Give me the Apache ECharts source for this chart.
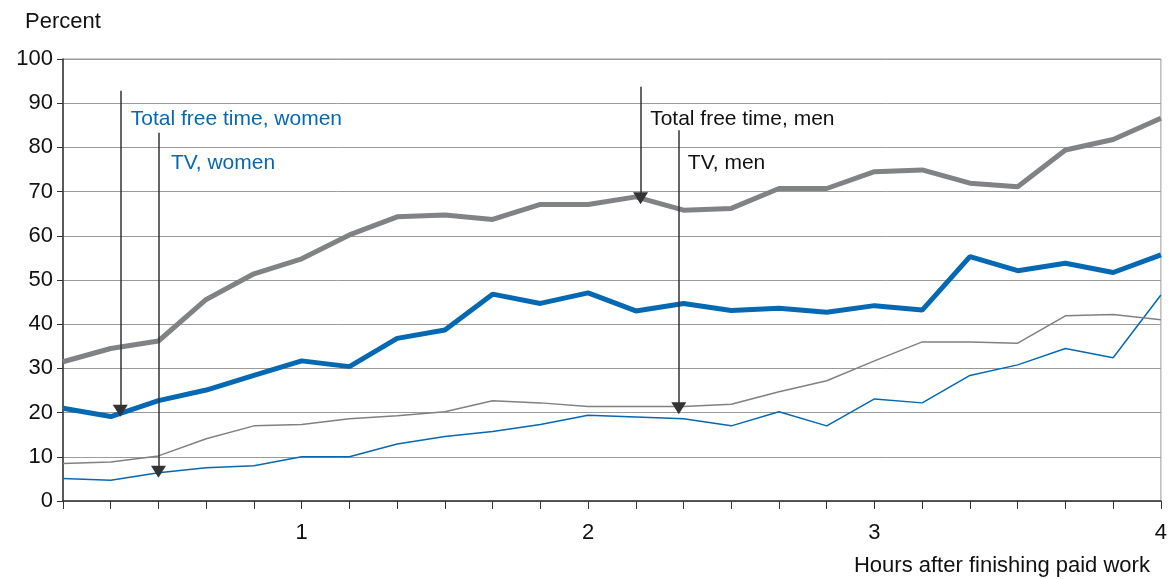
<!DOCTYPE html>
<html>
<head>
<meta charset="utf-8">
<script src="https://cdn.jsdelivr.net/npm/echarts@6/dist/echarts.min.js"></script>
<style>
  html, body { margin: 0; padding: 0; background: #fff; }
  #chart { width: 1170px; height: 579px; }
</style>
</head>
<body>
<div id="chart"></div>
<script>
// minutes after finishing paid work (10 min steps)
var minutes = [10, 20, 30, 40, 50, 60, 70, 80, 90, 100, 110, 120,
               130, 140, 150, 160, 170, 180, 190, 200, 210, 220, 230, 240];

// percent doing the activity
var freeWomen = [21.0, 19.1, 22.7, 25.1, 28.4, 31.7, 30.4, 36.8, 38.7, 46.8, 44.7, 47.1,
                 43.0, 44.7, 43.1, 43.6, 42.7, 44.2, 43.2, 55.3, 52.1, 53.8, 51.7, 55.7];
var freeMen = [31.5, 34.5, 36.2, 45.6, 51.4, 54.8, 60.2, 64.3, 64.7, 63.7, 67.1, 67.1,
               68.8, 65.8, 66.2, 70.7, 70.7, 74.5, 74.9, 71.9, 71.1, 79.4, 81.8, 86.6];
var tvMen = [8.5, 8.8, 10.2, 14.1, 17.0, 17.3, 18.6, 19.3, 20.2, 22.7, 22.2, 21.4,
             21.4, 21.4, 21.9, 24.7, 27.2, 31.7, 36.0, 36.0, 35.7, 41.9, 42.2, 41.0];
var tvWomen = [5.1, 4.7, 6.4, 7.5, 8.0, 10.0, 10.0, 12.9, 14.6, 15.7, 17.3, 19.4,
               19.0, 18.6, 17.0, 20.2, 17.0, 23.1, 22.2, 28.4, 30.8, 34.5, 32.4, 46.6];

// annotation arrows (minute, from %, to %) and their labels
var arrows = [[22, 92.8, 20.4], [30, 83.3, 6.6], [131, 93.7, 68.5], [139, 83.9, 21.0]];
var labelTexts = ['Total free time, women', 'TV, women', 'Total free time, men', 'TV, men'];
var labelAt = [[24.2, 86.4], [32.6, 76.5], [133, 86.4], [140.9, 76.5]];

var BLUE = '#0568b2';
var GREY = '#808285';
var FONT = 'Liberation Sans, Arial, sans-serif';

function pairs(arr) {
    return minutes.map(function (m, i) { return [m, arr[i]]; });
}

var chart = echarts.init(document.getElementById('chart'));

var option = {
    animation: false,
    textStyle: { fontFamily: FONT },
    grid: {
        left: 63, right: 8, top: 59, bottom: 78,
        show: true, borderColor: '#9a9a9a', borderWidth: 1
    },
    xAxis: {
        type: 'value',
        min: 10, max: 240, interval: 10,
        name: 'Hours after finishing paid work',
        nameLocation: 'end',
        nameGap: -11,
        nameTextStyle: {
            fontSize: 22, color: '#111', align: 'right', verticalAlign: 'top',
            padding: [54, 0, 0, 0]
        },
        axisLine: { lineStyle: { color: '#333', width: 1.5 } },
        axisTick: { length: 8, lineStyle: { color: '#333' } },
        axisLabel: {
            fontSize: 22, color: '#111', margin: 21, showMinLabel: true,
            formatter: function (v) { return v % 60 === 0 ? String(v / 60) : ''; }
        },
        splitLine: { show: false }
    },
    yAxis: {
        type: 'value',
        min: 0, max: 100, interval: 10,
        name: 'Percent',
        nameLocation: 'end',
        nameGap: 37,
        nameTextStyle: { fontSize: 22, color: '#111', align: 'center', verticalAlign: 'middle' },
        axisLine: { show: true, lineStyle: { color: '#333', width: 1.5 } },
        axisTick: { show: true, length: 6, lineStyle: { color: '#333' } },
        axisLabel: { fontSize: 22, color: '#111', margin: 10 },
        splitLine: { lineStyle: { color: '#9a9a9a', width: 1 } }
    },
    series: [
        {
            name: 'TV, women', type: 'line', data: pairs(tvWomen),
            symbol: 'none', lineStyle: { color: BLUE, width: 1.5 }, z: 2
        },
        {
            name: 'TV, men', type: 'line', data: pairs(tvMen),
            symbol: 'none', lineStyle: { color: '#808080', width: 1.5 }, z: 2
        },
        {
            name: 'Total free time, women', type: 'line', data: pairs(freeWomen),
            symbol: 'none', lineStyle: { color: BLUE, width: 5 }, z: 3
        },
        {
            name: 'Total free time, men', type: 'line', data: pairs(freeMen),
            symbol: 'none', lineStyle: { color: GREY, width: 5 }, z: 3
        },
        {
            name: 'notes', type: 'line', data: [], z: 5, silent: true,
            markLine: {
                silent: true,
                symbol: ['none', 'triangle'],
                symbolSize: [15, 12],
                label: { show: false },
                lineStyle: { color: '#333', width: 1.5, type: 'solid' },
                data: arrows.map(function (a) {
                    return [{ coord: [a[0], a[1]] }, { coord: [a[0], a[2]] }];
                })
            },
            markPoint: {
                silent: true,
                symbol: 'circle',
                symbolSize: 0,
                label: {
                    show: true, position: 'right', distance: 0,
                    fontSize: 21, formatter: '{b}'
                },
                data: labelTexts.map(function (t, i) {
                    return {
                        name: t, coord: labelAt[i],
                        label: { color: i < 2 ? BLUE : '#111' }
                    };
                })
            }
        }
    ]
};

chart.setOption(option);
</script>
</body>
</html>
